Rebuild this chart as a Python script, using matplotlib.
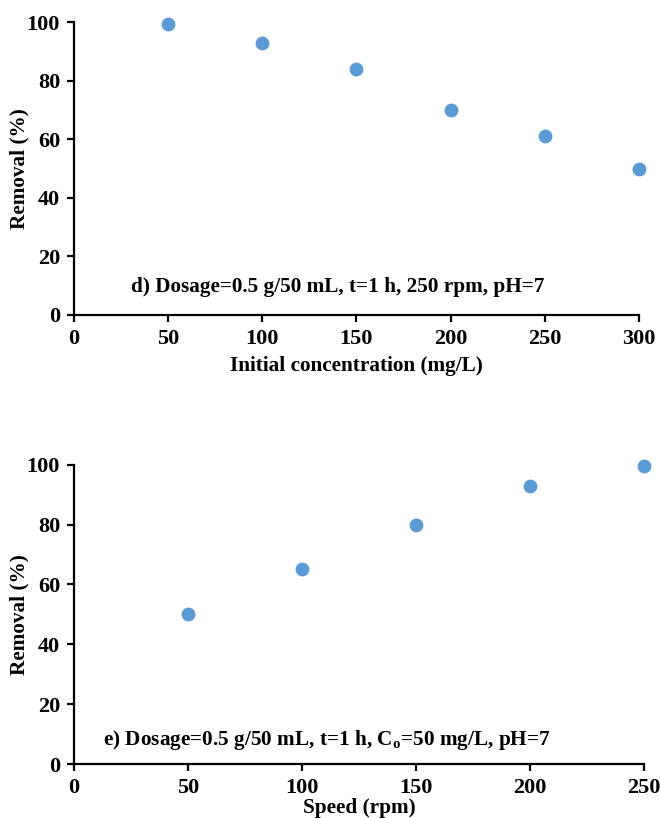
import matplotlib
matplotlib.use("Agg")
import matplotlib.pyplot as plt

# panel d: initial concentration
conc = [50, 100, 150, 200, 250, 300]
removal_conc = [99.5, 93, 84, 70, 61, 50]

# panel e: agitation speed
speed = [50, 100, 150, 200, 250]
removal_speed = [50, 65, 80, 93, 99.5]

plt.rcParams["font.family"] = ["Liberation Serif", "DejaVu Serif"]
plt.rcParams["font.weight"] = "bold"
plt.rcParams["mathtext.fontset"] = "custom"
plt.rcParams["mathtext.rm"] = "Liberation Serif:bold"
plt.rcParams["mathtext.it"] = "Liberation Serif:bold"
plt.rcParams["mathtext.bf"] = "Liberation Serif:bold"

color = "#5B9BD5"


def style_axes(ax, xmax, xstep, xlabel, xlab_y, ylab_x):
    ax.set_xlim(0, xmax)
    ax.set_ylim(0, 100)
    ax.set_xticks(range(0, xmax + 1, xstep))
    ax.set_yticks(range(0, 101, 20))
    for side in ["top", "right"]:
        ax.spines[side].set_visible(False)
    for side in ["left", "bottom"]:
        ax.spines[side].set_linewidth(1.6)
    ax.tick_params(direction="out", length=5, width=1.6, labelsize=16, pad=5)
    for lab in ax.get_xticklabels() + ax.get_yticklabels():
        lab.set_fontweight("bold")
    ax.set_xlabel(xlabel, fontsize=15.3, fontweight="bold", va="center")
    ax.set_ylabel("Removal (%)", fontsize=15.3, fontweight="bold", va="center")
    ax.xaxis.set_label_coords(0.5, xlab_y)
    ax.yaxis.set_label_coords(ylab_x, 0.5)


fig = plt.figure(figsize=(6.6, 8.18), dpi=100)

ax1 = fig.add_axes([0.112, 0.615, 0.856, 0.358])
ax1.scatter(conc, removal_conc, s=80, color=color, zorder=3, clip_on=False)
style_axes(ax1, 300, 50, "Initial concentration (mg/L)", -0.174, -0.096)
ax1.text(140, 9.5, "d) Dosage=0.5 g/50 mL, t=1 h, 250 rpm, pH=7",
         ha="center", va="center", fontsize=15.3, fontweight="bold")

ax2 = fig.add_axes([0.112, 0.066, 0.864, 0.366])
ax2.scatter(speed, removal_speed, s=80, color=color, zorder=3, clip_on=False)
style_axes(ax2, 250, 50, "Speed (rpm)", -0.147, -0.095)
ax2.text(111, 8, r"e) Dosage=0.5 g/50 mL, t=1 h, C$_\mathrm{o}$=50 mg/L, pH=7",
         ha="center", va="center", fontsize=15.3, fontweight="bold")

fig.savefig("out.png", dpi=100)
